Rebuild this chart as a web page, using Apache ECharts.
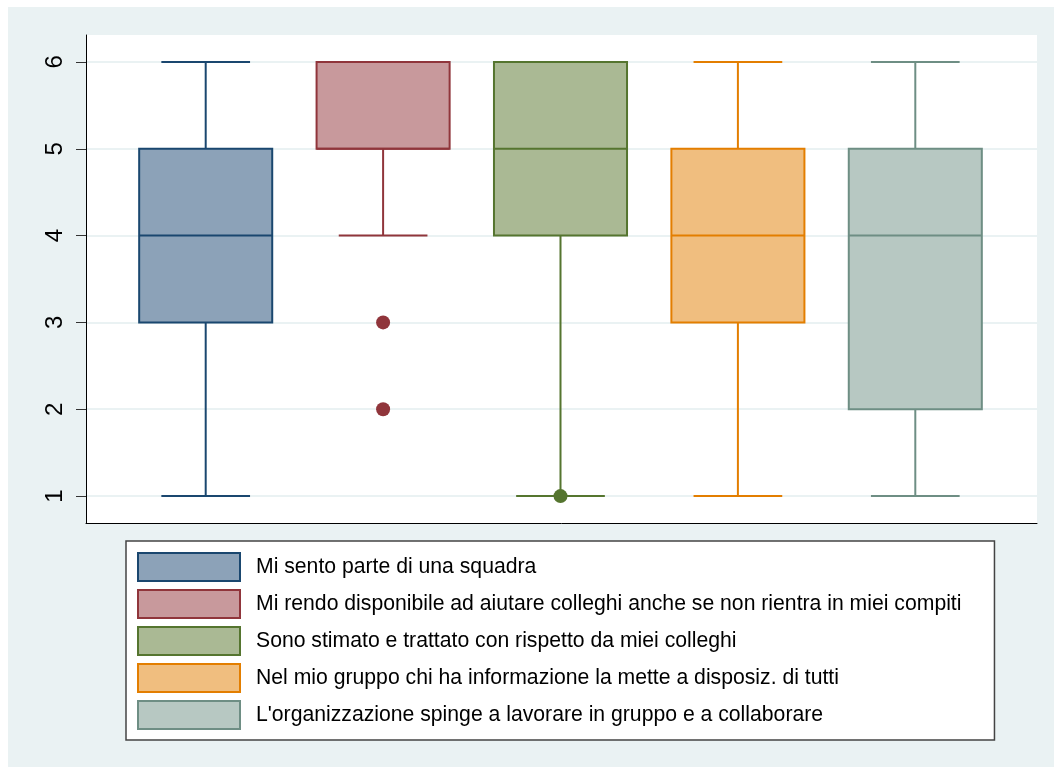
<!DOCTYPE html>
<html>
<head>
<meta charset="utf-8">
<script src="https://cdn.jsdelivr.net/npm/echarts@6/dist/echarts.min.js"></script>
<style>
html,body{margin:0;padding:0;background:#fff;}
#chart{width:1054px;height:767px;}
</style>
</head>
<body>
<div id="chart"></div>
<script>
// ---- data ----
var categories = [
  "Mi sento parte di una squadra",
  "Mi rendo disponibile ad aiutare colleghi anche se non rientra in miei compiti",
  "Sono stimato e trattato con rispetto da miei colleghi",
  "Nel mio gruppo chi ha informazione la mette a disposiz. di tutti",
  "L'organizzazione spinge a lavorare in gruppo e a collaborare"
];
var whiskerLow  = [1, 4, 1, 1, 1];
var quartile1   = [3, 5, 4, 3, 2];
var medians     = [4, 5, 5, 4, 4];
var quartile3   = [5, 6, 6, 5, 5];
var whiskerHigh = [6, 6, 6, 6, 6];
var outliers = [[], [3, 2], [1], [], []];
var yTicks = [1, 2, 3, 4, 5, 6];

var borderColors = ['#1A476F', '#90353B', '#55752F', '#E37E00', '#6E8E84'];
var fillColors   = ['#8CA2B8', '#C8999C', '#AAB994', '#F0BE7F', '#B7C8C2'];

var Y_MIN = 0.69, Y_MAX = 6.31;

function makeRenderer(c) {
  return function (params, api) {
    var idx = api.value(0);
    var lo = api.value(1), q1 = api.value(2), md = api.value(3), q3 = api.value(4), hi = api.value(5);
    var band = api.size([1, 0])[0];
    var bw = band * 0.75, cw = band * 0.5;
    var pLo = api.coord([idx, lo]), pQ1 = api.coord([idx, q1]), pMd = api.coord([idx, md]);
    var pQ3 = api.coord([idx, q3]), pHi = api.coord([idx, hi]);
    var x = pLo[0];
    var st = {stroke: borderColors[c], lineWidth: 2, fill: null};
    var children = [];
    if (hi > q3) {
      children.push({type: 'line', shape: {x1: x, y1: pQ3[1], x2: x, y2: pHi[1]}, style: st});
      children.push({type: 'line', shape: {x1: x - cw / 2, y1: pHi[1], x2: x + cw / 2, y2: pHi[1]}, style: st});
    }
    if (lo < q1) {
      children.push({type: 'line', shape: {x1: x, y1: pQ1[1], x2: x, y2: pLo[1]}, style: st});
      children.push({type: 'line', shape: {x1: x - cw / 2, y1: pLo[1], x2: x + cw / 2, y2: pLo[1]}, style: st});
    }
    children.push({type: 'rect', shape: {x: x - bw / 2, y: pQ3[1], width: bw, height: pQ1[1] - pQ3[1]},
      style: {fill: fillColors[c], stroke: borderColors[c], lineWidth: 2}});
    children.push({type: 'line', shape: {x1: x - bw / 2, y1: pMd[1], x2: x + bw / 2, y2: pMd[1]}, style: st});
    return {type: 'group', children: children};
  };
}

var series = [];
categories.forEach(function (name, i) {
  series.push({
    name: name,
    type: 'custom',
    xAxisIndex: 1, yAxisIndex: 1,
    renderItem: makeRenderer(i),
    itemStyle: {color: fillColors[i], borderColor: borderColors[i]},
    encode: {x: 0, y: [1, 2, 3, 4, 5]},
    data: [[i, whiskerLow[i], quartile1[i], medians[i], quartile3[i], whiskerHigh[i]]],
    z: 3
  });
  if (outliers[i].length) {
    series.push({
      name: name,
      type: 'scatter',
      xAxisIndex: 1, yAxisIndex: 1,
      symbol: 'circle',
      symbolSize: 14,
      itemStyle: {color: borderColors[i], opacity: 1},
      data: outliers[i].map(function (v) { return [i, v]; }),
      z: 5
    });
  }
});

var chart = echarts.init(document.getElementById('chart'));
chart.setOption({
  backgroundColor: '#ffffff',
  animation: false,
  graphic: [{
    type: 'rect', z: -100, silent: true,
    shape: {x: 8, y: 7, width: 1046, height: 760},
    style: {fill: '#EAF2F3'}
  }],
  grid: [
    {left: 86, right: 17, top: 35, bottom: 244, show: true, backgroundColor: '#ffffff', borderWidth: 0},
    {left: 117, right: 50, top: 35, bottom: 244, show: false}
  ],
  xAxis: [
    {gridIndex: 0, type: 'value', min: 0, max: 1,
      axisLine: {show: true, onZero: false, lineStyle: {color: '#000', width: 1}},
      axisTick: {show: false}, axisLabel: {show: false}, splitLine: {show: false}},
    {gridIndex: 1, type: 'category', data: categories,
      axisLine: {show: false}, axisTick: {show: false}, axisLabel: {show: false}, splitLine: {show: false}}
  ],
  yAxis: [
    {gridIndex: 0, type: 'value', min: Y_MIN, max: Y_MAX,
      axisLine: {show: true, lineStyle: {color: '#000', width: 1}},
      axisTick: {show: true, length: 10, customValues: yTicks, lineStyle: {color: '#333', width: 1}},
      axisLabel: {show: true, customValues: yTicks, rotate: 90, margin: 19,
        fontFamily: 'Liberation Sans, Arial, sans-serif', fontSize: 24, color: '#000'},
      splitLine: {show: true, lineStyle: {color: '#EAF2F3', width: 2}}},
    {gridIndex: 1, type: 'value', min: Y_MIN, max: Y_MAX,
      axisLine: {show: false}, axisTick: {show: false}, axisLabel: {show: false}, splitLine: {show: false}}
  ],
  legend: {
    orient: 'vertical',
    left: 126, top: 541,
    padding: [11, 33, 10, 11],
    itemWidth: 102, itemHeight: 28, itemGap: 7,
    icon: 'rect',
    backgroundColor: '#ffffff',
    borderColor: '#444', borderWidth: 1.5, borderRadius: 0,
    selectedMode: false,
    textStyle: {fontFamily: 'Liberation Sans, Arial, sans-serif', fontSize: 21.2, color: '#000', padding: [0, 0, 0, 11]},
    data: categories.map(function (n, i) {
      return {name: n, icon: 'rect', itemStyle: {color: fillColors[i], borderColor: borderColors[i], borderWidth: 2}};
    })
  },
  series: series
});
</script>
</body>
</html>
